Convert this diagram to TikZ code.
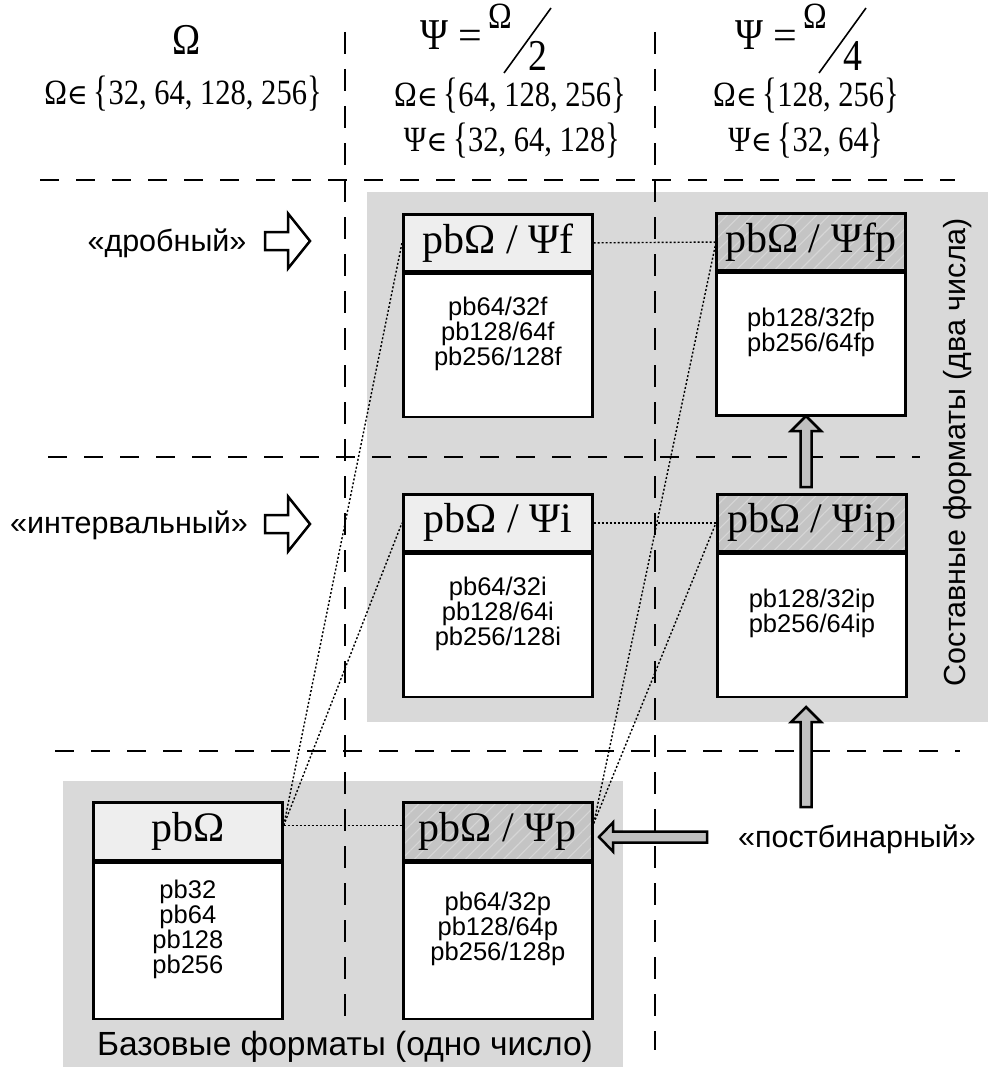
\documentclass[tikz,border=0pt]{standalone}
\usepackage{fontspec}
\usepackage{graphicx}
\setmainfont{Liberation Serif}
\setsansfont{Liberation Sans}
\newfontfamily\hdr[FakeStretch=0.86]{Liberation Serif}
\newfontfamily\symf[Scale=0.8]{DejaVu Serif}
\usetikzlibrary{patterns.meta}
\definecolor{regiongray}{RGB}{217,217,217}
\definecolor{hdrlightc}{RGB}{238,238,238}
\definecolor{hdrdarkc}{RGB}{196,196,196}
\definecolor{hatchc}{RGB}{214,214,214}
\definecolor{arrowc}{RGB}{192,192,192}
\newcommand{\bigbr}[1]{\raisebox{-0.03em}{\scalebox{1}[1.2]{#1}}}
\tikzset{
  hgrid/.style={line width=2.8, dash pattern=on 19 off 17},
  vgrid/.style={line width=2.8, dash pattern=on 22 off 15},
  region/.style={fill=regiongray, draw=none},
  hdrbox/.style={draw, line width=2.7, minimum width=189, minimum height=57, inner sep=0,
     font=\fontsize{42}{42}\selectfont},
  hdrlight/.style={hdrbox, fill=hdrlightc},
  hdrdark/.style={hdrbox, preaction={fill=hdrdarkc},
     pattern={Lines[angle=45,distance=9pt,line width=1.1pt]}, pattern color=hatchc},
  bodybox/.style={draw, line width=2.7, fill=white, minimum width=189, inner sep=0,
     align=center, anchor=north, font=\sffamily\fontsize{25.5}{25}\selectfont},
  conn/.style={line width=1.4, dash pattern=on 2 off 2},
  blockarrow/.style={draw, line width=2.5, line join=miter, fill=arrowc},
  hollowarrow/.style={draw, line width=2.5, line join=miter, fill=white},
  lbl/.style={font=\sffamily\fontsize{30.5}{30}\selectfont},
  rowtxt/.style={font=\hdr\fontsize{35.5}{35}\selectfont},
  titletxt/.style={font=\hdr\fontsize{44}{44}\selectfont, inner sep=0},
  eqtxt/.style={font=\fontsize{42}{42}\selectfont, inner sep=0},
  supertxt/.style={font=\hdr\fontsize{37}{37}\selectfont, inner sep=0},
}
\begin{document}
\begin{tikzpicture}[x=1pt,y=-1pt]
\useasboundingbox (0,0) rectangle (994,1070);
% regions
\fill[region] (367,192) rectangle (988,722);
\fill[region] (63,781) rectangle (623,1067);
% grid
\draw[vgrid] (345,32) -- (345,1024);
\draw[vgrid] (655,32) -- (655,1050);
\draw[hgrid] (40,180) -- (955,180);
\draw[hgrid] (48,457) -- (920,457);
\draw[hgrid] (55,751) -- (960,751);
% column headers
\node[titletxt] (t1) at (187,40) {Ω};
\node[rowtxt] (r1) at (183,94) {Ω{\symf ∈}\,\bigbr{\{}32, 64, 128, 256\bigbr{\}}};
\node[titletxt, anchor=base west] (t2a) at (420,50) {Ψ};
\node[eqtxt, anchor=base west] (t2e) at (458,50) {=};
\node[supertxt, anchor=base west] (t2b) at (488,29) {Ω};
\draw[line width=1.6] (504,73) -- (551,8);
\node[titletxt, anchor=base west] (t2c) at (528,71) {2};
\node[rowtxt] (r2a) at (510,96) {Ω{\symf ∈}\,\bigbr{\{}64, 128, 256\bigbr{\}}};
\node[rowtxt] (r2b) at (512,141) {Ψ{\symf ∈}\,\bigbr{\{}32, 64, 128\bigbr{\}}};
\node[titletxt, anchor=base west] (t3a) at (735,50) {Ψ};
\node[eqtxt, anchor=base west] (t3e) at (773,50) {=};
\node[supertxt, anchor=base west] (t3b) at (803,29) {Ω};
\draw[line width=1.6] (819,73) -- (866,8);
\node[titletxt, anchor=base west] (t3c) at (843,71) {4};
\node[rowtxt] (r3a) at (806,96) {Ω{\symf ∈}\,\bigbr{\{}128, 256\bigbr{\}}};
\node[rowtxt] (r3b) at (806,141) {Ψ{\symf ∈}\,\bigbr{\{}32, 64\bigbr{\}}};
% boxes
\node[hdrlight, anchor=north west] (f) at (402,213) {pbΩ / Ψf};
\node[bodybox, minimum height=143] (fb) at (f.south) {pb64/32f\\pb128/64f\\pb256/128f\\[4pt]};
\node[hdrdark, anchor=north west] (fp) at (716,213) {pbΩ / Ψfp};
\node[bodybox, minimum height=143] (fpb) at (fp.south) {pb128/32fp\\pb256/64fp\\[4pt]};
\node[hdrlight, anchor=north west] (i) at (402,493) {pbΩ / Ψi};
\node[bodybox, minimum height=143] (ib) at (i.south) {pb64/32i\\pb128/64i\\pb256/128i\\[4pt]};
\node[hdrdark, anchor=north west] (ip) at (716,493) {pbΩ / Ψip};
\node[bodybox, minimum height=143] (ipb) at (ip.south) {pb128/32ip\\pb256/64ip\\[4pt]};
\node[hdrlight, anchor=north west, minimum height=58] (o) at (92,801) {pbΩ};
\node[bodybox, minimum height=156] (ob) at (o.south) {pb32\\pb64\\pb128\\pb256\\[4pt]};
\node[hdrdark, anchor=north west, minimum height=58] (p) at (402,801) {pbΩ / Ψp};
\node[bodybox, minimum height=156] (pb) at (p.south) {pb64/32p\\pb128/64p\\pb256/128p\\[4pt]};
% dotted connectors
\draw[conn] ([yshift=6]o.east) -- (f.west);
\draw[conn] ([yshift=6]o.east) -- (i.west);
\draw[conn] ([yshift=6]o.east) -- ([yshift=6]p.west);
\draw[conn] ([yshift=8]p.east) -- (fp.west);
\draw[conn] ([yshift=8]p.east) -- (ip.west);
\draw[conn] (f.east) -- (fp.west);
\draw[conn] (i.east) -- (ip.west);
% block arrows
\draw[blockarrow] (806,416) -- (821,431) -- (811.5,431) -- (811.5,487) -- (800.5,487) -- (800.5,431) -- (791,431) -- cycle;
\draw[blockarrow] (806,707) -- (821,722) -- (811.5,722) -- (811.5,807) -- (800.5,807) -- (800.5,722) -- (791,722) -- cycle;
\draw[blockarrow] (599,837) -- (613,822.5) -- (613,831.5) -- (707,831.5) -- (707,842.5) -- (613,842.5) -- (613,851.5) -- cycle;
\draw[hollowarrow] (310,241) -- (288,213.5) -- (288,232) -- (265,232) -- (265,250) -- (288,250) -- (288,268.5) -- cycle;
\draw[hollowarrow] (310,524) -- (288,496.5) -- (288,515) -- (265,515) -- (265,533) -- (288,533) -- (288,551.5) -- cycle;
% labels
\node[lbl] (ld) at (167,243) {«дробный»};
\node[lbl] (li) at (129,525) {«интервальный»};
\node[lbl] (lp) at (857,839) {«постбинарный»};
\node[lbl, rotate=90] (lc) at (958,452) {Составные форматы (два числа)};
\node[lbl, font=\sffamily\fontsize{33.5}{33}\selectfont] (lb) at (345,1047) {Базовые форматы (одно число)};
\end{tikzpicture}
\end{document}
